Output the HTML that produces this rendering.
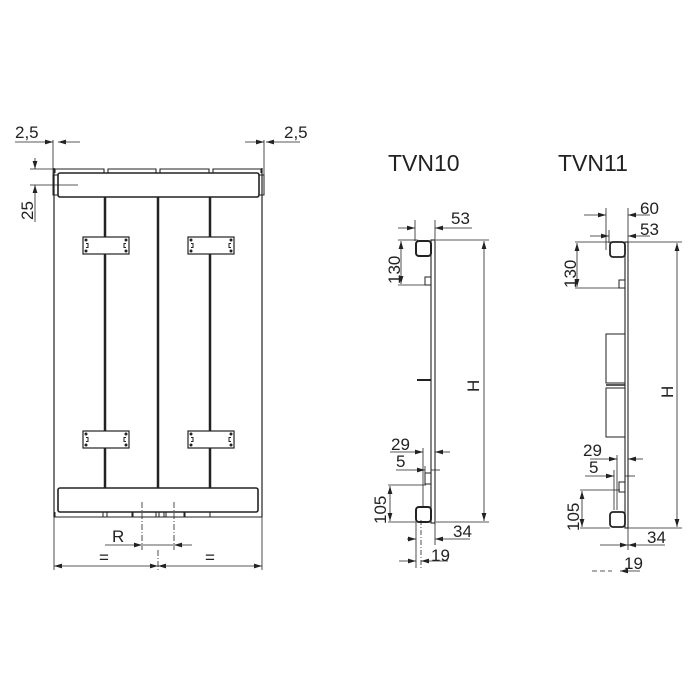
<!DOCTYPE html>
<html><head><meta charset="utf-8"><style>
html,body{margin:0;padding:0;background:#fff;width:700px;height:700px;overflow:hidden}
text{font-family:"Liberation Sans",sans-serif;fill:#222}
</style></head><body>
<svg width="700" height="700" viewBox="0 0 700 700" xmlns="http://www.w3.org/2000/svg">
<defs>
<marker id="a" viewBox="0 0 10 6" refX="10" refY="3" markerWidth="8" markerHeight="5" orient="auto" markerUnits="userSpaceOnUse"><path d="M0,0L10,3L0,6z" fill="#222"/></marker>
</defs>
<g stroke="#222" fill="none" stroke-width="0.8">
<line x1="54" y1="168" x2="54" y2="517" stroke-width="1.2"/>
<line x1="262" y1="168" x2="262" y2="517" stroke-width="1.2"/>
<path d="M55 173V169H104V173M108 173V169H156V173M160 173V169H209V173M213 173V169H261V173" stroke-width="1.1"/>
<rect x="58" y="173" width="201" height="24" rx="2" stroke-width="1.6"/>
<rect x="53" y="175" width="5" height="20" stroke-width="1"/>
<rect x="259" y="175" width="5" height="20" stroke-width="1"/>
<line x1="105" y1="197" x2="105" y2="488" stroke-width="2.5"/>
<line x1="158" y1="197" x2="158" y2="488" stroke-width="2.5"/>
<line x1="210" y1="197" x2="210" y2="488" stroke-width="2.5"/>
<g stroke-width="1.2" fill="#fff">
<rect x="83" y="237" width="46" height="17"/><rect x="188" y="237" width="46" height="17"/>
<rect x="83" y="431" width="46" height="17"/><rect x="188" y="431" width="46" height="17"/>
</g>
<g stroke-width="1">
<path d="M86 243.5h2v4h-2M126 243.5h-2v4h2M191 243.5h2v4h-2M231 243.5h-2v4h2"/>
<path d="M86 437.5h2v4h-2M126 437.5h-2v4h2M191 437.5h2v4h-2M231 437.5h-2v4h2"/>
</g>
<g fill="#222" stroke="none">
<circle cx="86" cy="240" r="1.5"/><circle cx="126" cy="240" r="1.5"/><circle cx="86" cy="251" r="1.5"/><circle cx="126" cy="251" r="1.5"/>
<circle cx="191" cy="240" r="1.5"/><circle cx="231" cy="240" r="1.5"/><circle cx="191" cy="251" r="1.5"/><circle cx="231" cy="251" r="1.5"/>
<circle cx="86" cy="434" r="1.5"/><circle cx="126" cy="434" r="1.5"/><circle cx="86" cy="445" r="1.5"/><circle cx="126" cy="445" r="1.5"/>
<circle cx="191" cy="434" r="1.5"/><circle cx="231" cy="434" r="1.5"/><circle cx="191" cy="445" r="1.5"/><circle cx="231" cy="445" r="1.5"/>
</g>
<rect x="58" y="488" width="200" height="24" rx="2" stroke-width="1.6"/>
<path d="M55 512V517H103V512M107 512V517H132V512M133 512V517H156V512M159 512V517H164V512M166 512V517H184V512M185 512V517H210V512M212 517H261" stroke-width="1"/>
<line x1="54" y1="517" x2="262" y2="517" stroke-width="1"/>
<line x1="142" y1="502" x2="142" y2="550" stroke-dasharray="6,2,1,2"/>
<line x1="174" y1="502" x2="174" y2="550" stroke-dasharray="6,2,1,2"/>
<line x1="105" y1="545" x2="142" y2="545" marker-end="url(#a)"/>
<line x1="192" y1="545" x2="174" y2="545" marker-end="url(#a)"/>
<line x1="142" y1="545" x2="174" y2="545"/>
<line x1="54" y1="517" x2="54" y2="570"/><line x1="262" y1="517" x2="262" y2="570"/>
<line x1="158" y1="550" x2="158" y2="572" stroke-dasharray="6,2,1,2"/>
<line x1="106" y1="566" x2="54" y2="566" marker-end="url(#a)"/>
<line x1="106" y1="566" x2="158" y2="566" marker-end="url(#a)"/>
<line x1="210" y1="566" x2="158" y2="566" marker-end="url(#a)"/>
<line x1="210" y1="566" x2="262" y2="566" marker-end="url(#a)"/>
<line x1="53" y1="140" x2="53" y2="175"/>
<line x1="15" y1="142" x2="53" y2="142" marker-end="url(#a)"/>
<line x1="80" y1="142" x2="58" y2="142" marker-end="url(#a)"/>
<line x1="264" y1="140" x2="264" y2="175"/>
<line x1="245" y1="142" x2="264" y2="142" marker-end="url(#a)"/>
<line x1="300" y1="142" x2="266" y2="142" marker-end="url(#a)"/>
<line x1="30" y1="169" x2="65" y2="169"/>
<line x1="30" y1="185" x2="78" y2="185"/>
<line x1="35" y1="158" x2="35" y2="169" marker-end="url(#a)"/>
<line x1="35" y1="222" x2="35" y2="185" marker-end="url(#a)"/>

<rect x="431" y="240" width="4" height="283" stroke-width="1.1"/>
<rect x="416" y="241" width="15" height="15" rx="3" stroke-width="2"/>
<rect x="425" y="277" width="6" height="8" stroke-width="1"/>
<rect x="425" y="473" width="6" height="11" stroke-width="1"/>
<rect x="416" y="507" width="15" height="15" rx="3" stroke-width="2"/>
<line x1="417" y1="380" x2="431" y2="380" stroke-width="2"/>
<line x1="415" y1="220" x2="415" y2="241"/><line x1="435" y1="220" x2="435" y2="240"/>
<line x1="398" y1="228" x2="415" y2="228" marker-end="url(#a)"/>
<line x1="472" y1="228" x2="435" y2="228" marker-end="url(#a)"/>
<line x1="398" y1="240" x2="418" y2="240"/><line x1="398" y1="285" x2="426" y2="285"/>
<line x1="401" y1="262" x2="401" y2="241" marker-end="url(#a)"/>
<line x1="401" y1="262" x2="401" y2="284" marker-end="url(#a)"/>
<line x1="436" y1="240" x2="489" y2="240"/><line x1="436" y1="522" x2="489" y2="522"/>
<line x1="484" y1="380" x2="484" y2="241" marker-end="url(#a)"/>
<line x1="484" y1="380" x2="484" y2="521" marker-end="url(#a)"/>
<line x1="423" y1="448" x2="423" y2="508"/>
<line x1="390" y1="452" x2="423" y2="452" marker-end="url(#a)"/>
<line x1="450" y1="452" x2="435" y2="452" marker-end="url(#a)"/>
<line x1="425" y1="466" x2="425" y2="475"/>
<line x1="396" y1="470" x2="425" y2="470" marker-end="url(#a)"/>
<line x1="440" y1="470" x2="431" y2="470"/>
<line x1="388" y1="485" x2="426" y2="485"/><line x1="388" y1="522" x2="416" y2="522"/>
<line x1="390" y1="503" x2="390" y2="486" marker-end="url(#a)"/>
<line x1="390" y1="503" x2="390" y2="521" marker-end="url(#a)"/>
<line x1="416" y1="522" x2="416" y2="568"/><line x1="435" y1="523" x2="435" y2="545"/>
<line x1="421" y1="520" x2="421" y2="568" stroke-dasharray="5,2,1,2"/>
<line x1="407" y1="539" x2="416" y2="539" marker-end="url(#a)"/>
<line x1="470" y1="539" x2="435" y2="539" marker-end="url(#a)"/>
<line x1="399" y1="561" x2="416" y2="561" marker-end="url(#a)"/>
<line x1="448" y1="561" x2="421" y2="561" marker-end="url(#a)"/>

<rect x="625" y="242" width="3" height="286" stroke-width="1.1"/>
<rect x="610" y="242" width="15" height="15" rx="3" stroke-width="1.8"/>
<rect x="619" y="280" width="6" height="8" stroke-width="1"/>
<rect x="606" y="334" width="19" height="49" stroke-width="1"/>
<rect x="606" y="388" width="19" height="49" stroke-width="1"/>
<line x1="606" y1="385" x2="625" y2="385" stroke-width="1.5"/>
<rect x="619" y="482" width="6" height="10" stroke-width="1"/>
<rect x="610" y="512" width="15" height="15" rx="3" stroke-width="1.8"/>
<line x1="606" y1="208" x2="606" y2="250"/><line x1="628" y1="208" x2="628" y2="242"/>
<line x1="584" y1="215" x2="606" y2="215" marker-end="url(#a)"/>
<line x1="650" y1="215" x2="628" y2="215" marker-end="url(#a)"/>
<line x1="609" y1="230" x2="609" y2="243"/>
<line x1="590" y1="236" x2="609" y2="236" marker-end="url(#a)"/>
<line x1="650" y1="236" x2="628" y2="236" marker-end="url(#a)"/>
<line x1="575" y1="242" x2="612" y2="242"/><line x1="575" y1="288" x2="620" y2="288"/>
<line x1="577" y1="265" x2="577" y2="243" marker-end="url(#a)"/>
<line x1="577" y1="265" x2="577" y2="287" marker-end="url(#a)"/>
<line x1="628" y1="242" x2="682" y2="242"/><line x1="628" y1="528" x2="682" y2="528"/>
<line x1="677" y1="385" x2="677" y2="243" marker-end="url(#a)"/>
<line x1="677" y1="385" x2="677" y2="527" marker-end="url(#a)"/>
<line x1="617" y1="455" x2="617" y2="510"/>
<line x1="590" y1="459" x2="617" y2="459" marker-end="url(#a)"/>
<line x1="643" y1="459" x2="628" y2="459" marker-end="url(#a)"/>
<line x1="614" y1="470" x2="614" y2="510"/>
<line x1="585" y1="476" x2="614" y2="476" marker-end="url(#a)"/>
<line x1="635" y1="476" x2="625" y2="476"/>
<line x1="580" y1="490" x2="620" y2="490"/><line x1="580" y1="528" x2="610" y2="528"/>
<line x1="582" y1="509" x2="582" y2="491" marker-end="url(#a)"/>
<line x1="582" y1="509" x2="582" y2="527" marker-end="url(#a)"/>
<line x1="628" y1="528" x2="628" y2="550"/>
<line x1="600" y1="545" x2="628" y2="545" marker-end="url(#a)"/>
<line x1="665" y1="545" x2="628" y2="545" marker-end="url(#a)"/>
<line x1="592" y1="571" x2="612" y2="571" stroke-dasharray="5,3"/>
<line x1="640" y1="571" x2="620" y2="571" marker-end="url(#a)"/>
</g>
<g font-size="17">
<text x="15" y="138">2,5</text>
<text x="284" y="138">2,5</text>
<text transform="translate(33,220) rotate(-90)">25</text>
<text x="112" y="542">R</text>
<text x="99" y="563">=</text>
<text x="205" y="563">=</text>
<text x="451" y="224">53</text>
<text transform="translate(400,284) rotate(-90)">130</text>
<text transform="translate(479,392) rotate(-90)">H</text>
<text x="391" y="450">29</text>
<text x="396" y="467">5</text>
<text transform="translate(386,524) rotate(-90)">105</text>
<text x="453" y="537">34</text>
<text x="431" y="561">19</text>
<text x="640" y="214">60</text>
<text x="640" y="235">53</text>
<text transform="translate(576,288) rotate(-90)">130</text>
<text transform="translate(673,398) rotate(-90)">H</text>
<text x="583" y="456">29</text>
<text x="589" y="473">5</text>
<text transform="translate(579,531) rotate(-90)">105</text>
<text x="647" y="543">34</text>
<text x="624" y="569">19</text>
</g>
<text x="388" y="171" font-size="23">TVN10</text>
<text x="558" y="171" font-size="23">TVN11</text>
</svg>
</body></html>
